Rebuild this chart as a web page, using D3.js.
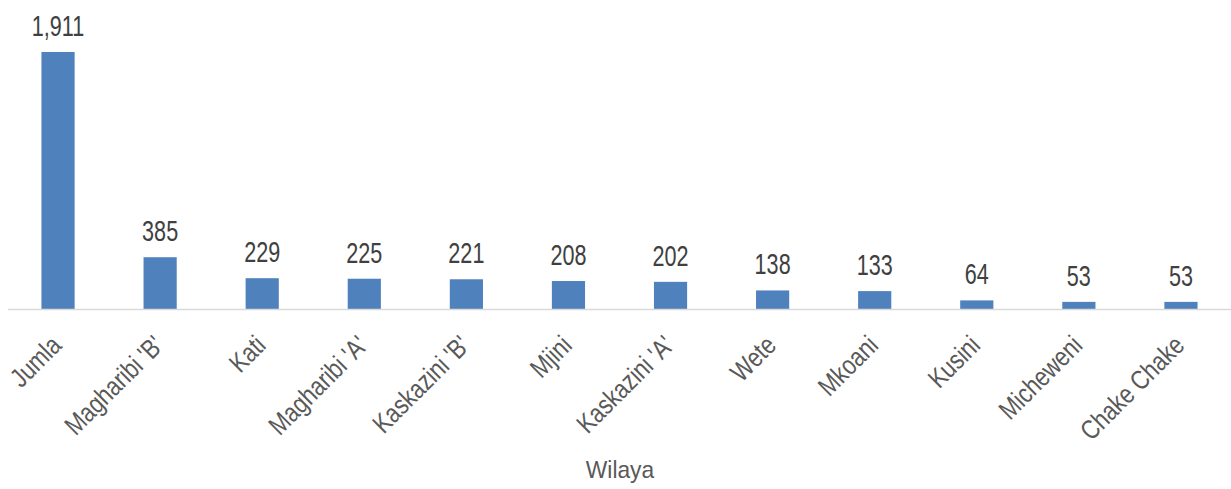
<!DOCTYPE html>
<html>
<head>
  <meta charset="UTF-8">
  <style>
    body { margin: 0; background: #fff; }
    text { font-family: "Liberation Sans Narrow", "Arial Narrow", "Liberation Sans", sans-serif; }
  </style>
</head>
<body>
<svg width="1231" height="489"></svg>
<script src="https://d3js.org/d3.v7.min.js"></script>
<script>
const wilaya = ["Jumla", "Magharibi 'B'", "Kati", "Magharibi 'A'", "Kaskazini 'B'", "Mjini",
  "Kaskazini 'A'", "Wete", "Mkoani", "Kusini", "Micheweni", "Chake Chake"];
const counts = [1911, 385, 229, 225, 221, 208, 202, 138, 133, 64, 53, 53];

let width = 1231, height = 489;
let svg = d3.select("svg");

let x = d3.scaleBand()
    .domain(wilaya)
    .range([7, 1232])
    .paddingInner(0.675)
    .paddingOuter(0.3375);

let y = d3.scaleLinear()
    .domain([0, 2000])
    .range([309, 40]);

// bars
svg.append("g")
    .selectAll("rect")
    .data(wilaya)
    .enter()
    .append("rect")
    .attr("x", d => x(d))
    .attr("width", x.bandwidth())
    .attr("y", (d, i) => y(counts[i]))
    .attr("height", (d, i) => y(0) - y(counts[i]))
    .attr("fill", "#4f81bd");

// axis line
svg.append("line")
    .attr("x1", 8).attr("x2", 1231)
    .attr("y1", y(0) + 0.5).attr("y2", y(0) + 0.5)
    .attr("stroke", "#d9d9d9")
    .attr("stroke-width", 1.5);

// value labels (narrowed, no condensed font installed)
svg.append("g")
    .selectAll("text")
    .data(wilaya)
    .enter()
    .append("text")
    .attr("transform", (d, i) => "translate(" + (x(d) + x.bandwidth() / 2) + "," + (y(counts[i]) - 16) + ") scale(0.72,1)")
    .attr("text-anchor", "middle")
    .attr("font-size", 30)
    .attr("fill", "#404040")
    .text((d, i) => d3.format(",")(counts[i]));

// category labels
svg.append("g")
    .selectAll("text")
    .data(wilaya)
    .enter()
    .append("text")
    .attr("transform", d => "translate(" + (x(d) + x.bandwidth() / 2 + 5) + "," + (y(0) + 38) + ") rotate(-45) scale(0.82,1)")
    .attr("text-anchor", "end")
    .attr("font-size", 27)
    .attr("fill", "#595959")
    .text(d => d);

// axis title
svg.append("text")
    .attr("transform", "translate(620,478) scale(0.95,1)")
    .attr("text-anchor", "middle")
    .attr("font-size", 24)
    .attr("fill", "#595959")
    .text("Wilaya");
</script>
</body>
</html>
